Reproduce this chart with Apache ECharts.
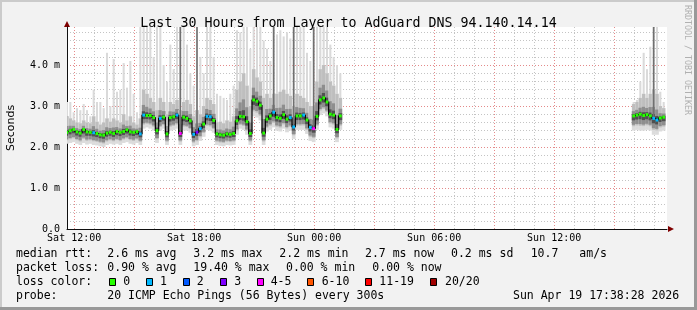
<!DOCTYPE html>
<html><head><meta charset="utf-8">
<script src="https://cdn.jsdelivr.net/npm/echarts@6/dist/echarts.min.js"></script>
<style>html,body{margin:0;padding:0;background:#f2f2f2}#c{width:697px;height:310px}</style>
</head><body><div id="c"></div><script>
// ---- time axis (hours since Sat 00:00) ----
const xMin = 11.641, xMax = 41.641;
const stepH = 1 / 6;             // 10-minute samples
const seg1Start = 11.641;
const seg2Start = 39.974;
const xLabelHours = [12, 18, 24, 30, 36];
const xMajorHours = [12, 15, 18, 21, 24, 27, 30, 33, 36, 39];
const xMinorHours = [12,13,14,15,16,17,18,19,20,21,22,23,24,25,26,27,28,29,30,31,32,33,34,35,36,37,38,39,40,41];
const yMax = 4.93;

// ---- segment 1 (Sat 11:38 -> Sun 01:30), values in ms ----
const seg1Median = [2.36,2.40,2.43,2.37,2.34,2.43,2.37,2.36,2.35,2.33,
 2.30,2.29,2.34,2.36,2.33,2.38,2.36,2.38,2.42,2.37,
 2.36,2.38,2.32,2.78,2.77,2.77,2.72,2.40,2.70,2.73,
 2.32,2.72,2.74,2.78,2.33,2.73,2.70,2.64,2.31,2.36,
 2.45,2.56,2.75,2.74,2.65,2.32,2.30,2.29,2.32,2.31,
 2.33,2.64,2.75,2.74,2.62,2.33,3.15,3.12,3.02,2.34,
 2.68,2.76,2.85,2.72,2.70,2.79,2.68,2.72,2.49,2.76,
 2.76,2.78,2.66,2.48,2.45,2.75,3.15,3.20,3.10,2.80,
 2.78,2.43,2.76];
const seg1Lo = [2.08,2.10,2.12,2.08,2.05,2.10,2.06,2.08,2.05,2.04,
 2.02,2.00,2.05,2.08,2.06,2.08,2.05,2.10,2.12,2.08,
 2.06,2.10,2.05,2.45,2.48,2.45,2.40,2.10,2.40,2.45,
 2.05,2.40,2.42,2.45,2.05,2.40,2.40,2.35,2.02,2.05,
 2.15,2.25,2.42,2.40,2.35,2.05,2.03,2.02,2.05,2.04,
 2.05,2.30,2.45,2.42,2.30,2.05,2.75,2.72,2.65,2.05,
 2.38,2.42,2.48,2.40,2.38,2.45,2.36,2.40,2.20,2.42,
 2.42,2.42,2.32,2.15,2.12,2.42,2.78,2.82,2.75,2.48,
 2.45,2.12,2.42];
const seg1Mid = [2.75,2.70,2.65,2.60,2.58,2.65,2.60,2.58,2.75,2.62,
 2.55,2.60,2.70,2.62,2.70,2.65,2.60,2.80,2.65,2.75,
 2.60,2.55,2.70,3.40,3.30,3.20,3.10,2.90,3.20,3.10,
 2.80,3.10,3.05,3.15,2.90,3.10,3.15,3.05,2.75,2.90,
 2.80,3.00,3.20,3.15,3.05,2.60,2.62,2.58,2.65,2.62,
 2.75,3.40,3.60,3.80,3.50,3.00,3.90,3.70,3.60,3.20,
 3.30,3.20,3.30,3.30,3.35,3.40,3.30,3.25,3.00,3.30,
 3.25,3.20,3.10,3.00,3.00,3.60,3.90,4.00,3.80,3.60,
 3.50,3.30,3.20];
const seg1Hi = [3.10,3.10,2.85,2.95,2.90,3.05,2.90,2.75,3.40,3.10,
 3.10,2.95,4.30,3.00,4.15,3.35,3.40,4.05,3.45,4.10,
 3.30,2.85,4.93,4.93,4.93,4.93,4.20,4.93,4.93,4.00,
 3.60,4.50,3.90,4.93,4.93,4.93,4.50,3.80,3.50,4.93,
 4.20,3.80,4.93,4.93,4.20,3.30,3.25,3.20,3.15,3.30,
 3.50,4.85,4.80,4.93,4.93,4.40,4.93,4.93,4.93,4.60,
 4.40,4.10,4.93,4.75,4.85,4.70,4.80,4.65,4.93,4.93,
 4.93,4.93,4.30,4.10,4.93,4.93,4.93,4.93,4.93,4.50,
 4.20,4.00,3.80];
const seg1Loss = [0,0,0,0,0,0,0,0,1,0,
 0,0,0,0,0,0,0,0,0,0,
 0,0,1,1,0,0,0,0,1,0,
 0,0,0,1,4,0,0,0,1,3,
 1,0,1,1,0,0,0,0,0,0,
 0,0,0,0,0,0,0,0,0,0,
 0,0,1,0,0,0,0,1,1,0,
 0,1,0,1,4,0,0,0,0,0,
 0,0,0];
const seg1Dark = [34, 39, 62, 68, 74];

// ---- segment 2 (Sun 15:58 -> 17:38) ----
const seg2Median = [2.76,2.78,2.80,2.77,2.79,2.76,2.70,2.66,2.71,2.73];
const seg2Lo = [2.40,2.42,2.40,2.40,2.42,2.40,2.30,2.30,2.38,2.40];
const seg2Mid = [3.05,3.10,3.20,3.30,3.20,3.30,3.40,3.30,3.00,2.95];
const seg2Hi = [3.10,3.15,3.60,4.30,3.90,4.45,4.93,4.93,3.35,3.10];
const seg2Loss = [0,0,0,0,0,0,1,1,0,0];
const seg2Dark = [6];

// ---- legend ----
const lossLabels = ['0','1','2','3','4-5','6-10','11-19','20/20'];
const lossColors = ['#26ff00','#00b8ff','#0059ff','#7e00ff','#ff00ff','#ff5500','#ff0000','#a10000'];
const rttStats = ['2.6 ms avg','3.2 ms max','2.2 ms min','2.7 ms now','0.2 ms sd','10.7','am/s'];
const lossStats = ['0.90 % avg','19.40 % max','0.00 % min','0.00 % now'];
const probeText = '20 ICMP Echo Pings (56 Bytes) every 300s';
const stampText = 'Sun Apr 19 17:38:28 2026';
const titleText = 'Last 30 Hours from Layer to AdGuard DNS 94.140.14.14';

// ---- build rows ----
const smokeRows = [], lossRows = [], median1 = [], median2 = [];
function addSeg(start, med, lo, mid, hi, loss, dark, medOut) {
  for (let i = 0; i < med.length; i++) {
    const t = start + i * stepH;
    smokeRows.push([t, lo[i], mid[i], hi[i], med[i], dark.indexOf(i) >= 0 ? 1 : 0]);
    medOut.push([t, med[i]]);
    lossRows.push([t, med[i], loss[i]]);
  }
}
addSeg(seg1Start, seg1Median, seg1Lo, seg1Mid, seg1Hi, seg1Loss, seg1Dark, median1);
addSeg(seg2Start, seg2Median, seg2Lo, seg2Mid, seg2Hi, seg2Loss, seg2Dark, median2);

const MONO = '"DejaVu Sans Mono", monospace';
const GL = 67, GT = 27, GW = 600, GH = 202;

function hourLabel(v) {
  const h = Math.round(v);
  const day = h < 24 ? 'Sat' : 'Sun';
  const hh = h % 24;
  return day + ' ' + (hh < 10 ? '0' : '') + hh + ':00';
}

function renderSmoke(params, api) {
  const t = api.value(0), lo = api.value(1), mid = api.value(2), hi = api.value(3), med = api.value(4), dk = api.value(5);
  const w = api.size([stepH, 0])[0];
  const cx = api.coord([t, 0])[0];
  const Y = v => api.coord([t, v])[1];
  const band = (a, b, color, f) => {
    const ww = (w + 0.4) * (f || 1);
    return { type: 'rect', shape: { x: cx - ww / 2, y: Y(b), width: ww, height: Y(a) - Y(b) }, style: { fill: color } };
  };
  const ch = [];
  if (hi > mid) ch.push(band(mid, hi, '#dadada', 0.55));
  ch.push(band(lo, mid, '#dcdcdc'));
  ch.push(band(lo + 0.3 * (med - lo), mid, '#bebebe', 0.85));
  ch.push(band(med - 0.6 * (med - lo), med + 0.4 * (mid - med), '#8e8e8e'));
  ch.push(band(med - 0.3 * (med - lo), med + 0.15 * (mid - med), '#505050'));
  if (dk) ch.push({ type: 'rect', shape: { x: cx - 0.8, y: Y(yMax), width: 1.6, height: Y(med) - Y(yMax) }, style: { fill: '#707070' } });
  return { type: 'group', children: ch };
}
function renderLoss(params, api) {
  const t = api.value(0), med = api.value(1), cls = api.value(2);
  const w = api.size([stepH, 0])[0];
  const p = api.coord([t, med]);
  return { type: 'rect', shape: { x: p[0] - w / 2 + 0.3, y: p[1] - 1.5, width: w - 0.6, height: 3 }, style: { fill: lossColors[cls] } };
}

const g = [];
function txt(x, y, s, extra) {
  g.push(Object.assign({ type: 'text', x: x, y: y, silent: true,
    style: { text: s, fontFamily: MONO, fontSize: 11.5, fill: '#000', verticalAlign: 'middle', align: 'left' } }, extra || {}));
}
// frame shading
g.push({ type: 'rect', shape: { x: 0, y: 0, width: 697, height: 2 }, style: { fill: '#cbcbcb' }, silent: true });
g.push({ type: 'rect', shape: { x: 0, y: 0, width: 2, height: 310 }, style: { fill: '#cbcbcb' }, silent: true });
g.push({ type: 'rect', shape: { x: 694, y: 0, width: 3, height: 310 }, style: { fill: '#999999' }, silent: true });
g.push({ type: 'rect', shape: { x: 0, y: 307, width: 697, height: 3 }, style: { fill: '#999999' }, silent: true });
// watermark
g.push({ type: 'text', x: 687, y: 60, rotation: -Math.PI / 2, silent: true,
  style: { text: 'RRDTOOL / TOBI OETIKER', fontFamily: MONO, fontSize: 8.3, fill: '#b0b0b0', align: 'center', verticalAlign: 'middle' } });
// legend lines
const L1 = 254.3, L2 = 268.3, L3 = 282.3, L4 = 296.2;
txt(16, L1, 'median rtt:');
[107.3, 193.3, 279.3, 365, 451, 530.7, 579.3].forEach((x, i) => txt(x, L1, rttStats[i]));
txt(16, L2, 'packet loss:');
[107.3, 193.3, 286, 372.3].forEach((x, i) => txt(x, L2, lossStats[i]));
txt(16, L3, 'loss color:');
const boxX = [108.5, 145.7, 182.7, 220, 256.7, 307.3, 365, 430];
const boxLabelX = [123.3, 160, 196.7, 234.3, 270.7, 321.7, 379.3, 445];
boxX.forEach((x, i) => {
  g.push({ type: 'rect', silent: true, shape: { x: Math.round(x) + 0.5, y: 278.5, width: 6, height: 7 },
    style: { fill: lossColors[i], stroke: '#000', lineWidth: 1 } });
  txt(boxLabelX[i], L3, lossLabels[i]);
});
txt(16, L4, 'probe:');
txt(107.3, L4, probeText);
txt(513, L4, stampText);
// axis arrows (decorative, placed at grid ends)
g.push({ type: 'polygon', silent: true, shape: { points: [[GL + GW + 7, GT + GH], [GL + GW + 1, GT + GH - 3], [GL + GW + 1, GT + GH + 3]] }, style: { fill: '#7f0000' } });
g.push({ type: 'polygon', silent: true, shape: { points: [[GL, GT - 6], [GL - 3, GT], [GL + 3, GT]] }, style: { fill: '#7f0000' } });

const chart = echarts.init(document.getElementById('c'), null, { renderer: 'canvas' });
chart.setOption({
  animation: false,
  backgroundColor: '#f2f2f2',
  title: { text: titleText, left: 'center', top: 12, textStyle: { fontFamily: MONO, fontSize: 13.3, fontWeight: 'normal', color: '#000', lineHeight: 14 } },
  grid: { left: GL, top: GT, width: GW, height: GH, show: true, backgroundColor: '#ffffff', borderWidth: 0,
    containLabel: false, outerBoundsMode: 'none' },
  xAxis: [
    { type: 'value', min: xMin, max: xMax, position: 'bottom', z: 0,
      axisLine: { show: false }, axisTick: { show: false, customValues: xMinorHours }, axisLabel: { show: false },
      splitLine: { show: true, lineStyle: { color: '#c4c4c4', type: [1, 2], width: 1 } } },
    { type: 'value', min: xMin, max: xMax, position: 'bottom', z: 1,
      axisLine: { show: true, onZero: false, lineStyle: { color: '#101010', width: 1 } },
      axisTick: { show: false, customValues: xMajorHours },
      axisLabel: { show: true, customValues: xLabelHours, formatter: hourLabel, fontFamily: MONO, fontSize: 10, color: '#000', margin: 4 },
      splitLine: { show: true, lineStyle: { color: '#e48a8a', type: [1, 2], width: 1 } } }
  ],
  yAxis: [
    { type: 'value', min: 0, max: yMax, interval: 0.2, position: 'left', z: 0,
      axisLine: { show: false }, axisTick: { show: false }, axisLabel: { show: false },
      splitLine: { show: true, showMinLine: false, showMaxLine: false, lineStyle: { color: '#c4c4c4', type: [1, 2], width: 1 } } },
    { type: 'value', min: 0, max: yMax, interval: 1, position: 'left', z: 1,
      name: 'Seconds', nameLocation: 'middle', nameGap: 50, nameRotate: 90,
      nameTextStyle: { fontFamily: '"DejaVu Sans", sans-serif', fontSize: 11, color: '#000' },
      axisLine: { show: true, onZero: false, lineStyle: { color: '#101010', width: 1 } }, axisTick: { show: false },
      axisLabel: { fontFamily: MONO, fontSize: 10, color: '#000', margin: 7,
        formatter: v => (Math.abs(v - Math.round(v)) > 1e-6 ? '' : (v === 0 ? '0.0' : v.toFixed(1) + ' m')) },
      splitLine: { show: true, showMinLine: false, showMaxLine: false, lineStyle: { color: '#e48a8a', type: [1, 2], width: 1 } } }
  ],
  series: [
    { type: 'custom', name: 'smoke', xAxisIndex: 1, yAxisIndex: 1, data: smokeRows, renderItem: renderSmoke, clip: true, silent: true, z: 2,
      encode: { x: 0, y: [1, 3] } },
    { type: 'line', name: 'median', xAxisIndex: 1, yAxisIndex: 1, data: median1, step: 'middle', showSymbol: false, symbol: 'none',
      lineStyle: { color: '#000', width: 1.2 }, silent: true, z: 3 },
    { type: 'line', name: 'median2', xAxisIndex: 1, yAxisIndex: 1, data: median2, step: 'middle', showSymbol: false, symbol: 'none',
      lineStyle: { color: '#000', width: 1.2 }, silent: true, z: 3 },
    { type: 'custom', name: 'loss', xAxisIndex: 1, yAxisIndex: 1, data: lossRows, renderItem: renderLoss, clip: true, silent: true, z: 4,
      encode: { x: 0, y: 1 } }
  ],
  graphic: g
});
</script></body></html>
